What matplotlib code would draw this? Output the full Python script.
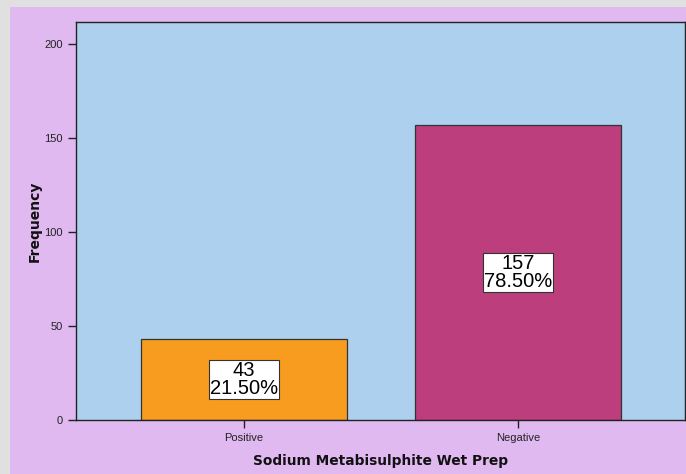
import matplotlib.pyplot as plt
import matplotlib.patches as mpatches

categorias = ["Positive", "Negative"]
frequencias = [43, 157]
percentuais = [21.50, 78.50]
cores_barras = ["#f89c1f", "#bc3e7d"]

fig = plt.figure(figsize=(6.86, 4.74), dpi=100)
fig.patch.set_facecolor("#e0e0e0")
# fundo roxo (com margem cinza em cima e à esquerda)
fig.patches.append(mpatches.Rectangle((10 / 686, 0), 1, 467 / 474, transform=fig.transFigure,
                                      facecolor="#e0b9f1", edgecolor="none", zorder=-10))

ax = fig.add_axes([76 / 686, 54 / 474, 609 / 686, 398 / 474])
ax.set_facecolor("#acd0ee")

x = range(len(categorias))
ax.bar(x, frequencias, width=0.75, color=cores_barras, edgecolor="#333333", linewidth=0.9, zorder=2)

for xi, f, p in zip(x, frequencias, percentuais):
    ax.text(xi, f / 2, f"{f}\n{p:.2f}%", ha="center", va="center", fontsize=14.5,
            family="Liberation Sans", linespacing=0.9, zorder=3,
            bbox=dict(boxstyle="square,pad=0.06", facecolor="white", edgecolor="#333333", linewidth=0.8))

ax.set_xlim(-0.613, 1.609)
ax.set_ylim(0, 211.7)
ax.set_yticks([0, 50, 100, 150, 200])
ax.set_xticks(list(x))
ax.set_xticklabels(categorias)
ax.tick_params(axis="both", labelsize=8, length=6, width=1, color="#222222", labelcolor="#222222")
for lbl in ax.get_xticklabels() + ax.get_yticklabels():
    lbl.set_family("Liberation Sans")
for s in ax.spines.values():
    s.set_color("#222222")
    s.set_linewidth(1)

ax.set_ylabel("Frequency", fontsize=10, fontweight="bold", color="#111111", va="center")
ax.yaxis.set_label_coords(-0.067, 0.5)
ax.set_xlabel("Sodium Metabisulphite Wet Prep", fontsize=9.9, fontweight="bold", labelpad=8, color="#111111")

plt.savefig("out.png", dpi=100)
plt.close()
